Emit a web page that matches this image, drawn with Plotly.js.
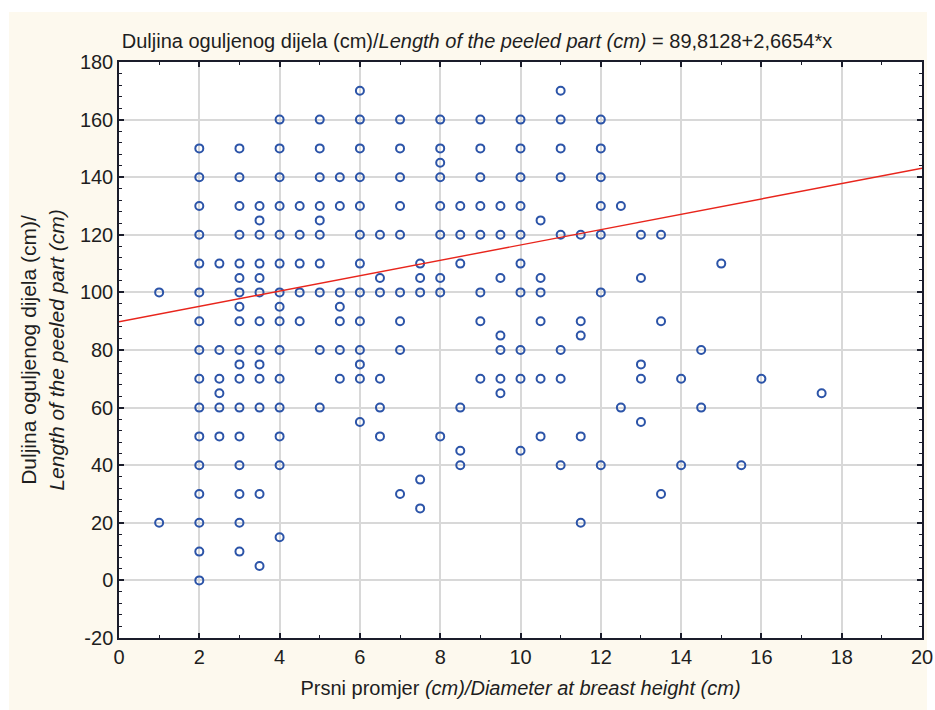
<!DOCTYPE html>
<html>
<head>
<meta charset="utf-8">
<script src="https://cdn.plot.ly/plotly-3.0.1.min.js"></script>
<style>
html,body{margin:0;padding:0;background:#ffffff;}
#panel{position:absolute;left:9px;top:12px;width:918px;height:698px;background:#fdf9ee;}
#chart{position:absolute;left:9px;top:12px;width:926px;height:698px;}
</style>
</head>
<body>
<div id="panel"></div>
<div id="chart"></div>
<script>
// Diameter at breast height (cm) and length of the peeled part (cm), grouped by diameter
const dbhValues = [1, 2, 2.5, 3, 3.5, 4, 4.5, 5, 5.5, 6, 6.5, 7, 7.5, 8, 8.5, 9, 9.5, 10, 10.5, 11, 11.5, 12, 12.5, 13, 13.5, 14, 14.5, 15, 15.5, 16, 17.5];
const peeledLengths = [
  [100, 20],
  [150, 140, 130, 120, 110, 100, 90, 80, 70, 60, 50, 40, 30, 20, 10, 0],
  [110, 80, 70, 65, 60, 50],
  [150, 140, 130, 120, 110, 105, 100, 95, 90, 80, 75, 70, 60, 50, 40, 30, 20, 10],
  [130, 125, 120, 110, 105, 100, 90, 80, 75, 70, 60, 30, 5],
  [160, 150, 140, 130, 120, 110, 100, 95, 90, 80, 70, 60, 50, 40, 15],
  [130, 120, 110, 100, 90],
  [160, 150, 140, 130, 125, 120, 110, 100, 80, 60],
  [140, 130, 100, 95, 90, 80, 70],
  [170, 160, 150, 140, 130, 120, 110, 100, 90, 80, 75, 70, 55],
  [120, 105, 100, 70, 60, 50],
  [160, 150, 140, 130, 120, 100, 90, 80, 30],
  [110, 105, 100, 35, 25],
  [160, 150, 145, 140, 130, 120, 105, 100, 50],
  [130, 120, 110, 60, 45, 40],
  [160, 150, 140, 130, 120, 100, 90, 70],
  [130, 120, 105, 85, 80, 70, 65],
  [160, 150, 140, 130, 120, 110, 100, 80, 70, 45],
  [125, 105, 100, 90, 70, 50],
  [170, 160, 150, 140, 120, 80, 70, 40],
  [120, 90, 85, 50, 20],
  [160, 150, 140, 130, 120, 100, 40],
  [130, 60],
  [120, 105, 75, 70, 55],
  [120, 90, 30],
  [70, 40],
  [80, 60],
  [110],
  [40],
  [70],
  [65]
];
// Regression: y = intercept + slope * x
const intercept = 89.8128;
const slope = 2.6654;
const lineX = [0, 20];

// Tick labels
const xTickVals = [0, 2, 4, 6, 8, 10, 12, 14, 16, 18, 20];
const xTickText = ['0', '2', '4', '6', '8', '10', '12', '14', '16', '18', '20'];
const yTickVals = [-20, 0, 20, 40, 60, 80, 100, 120, 140, 160, 180];
const yTickText = ['-20', '0', '20', '40', '60', '80', '100', '120', '140', '160', '180'];

const xs = [], ys = [];
dbhValues.forEach((d, i) => {
  peeledLengths[i].forEach(v => { xs.push(d); ys.push(v); });
});
const lineY = lineX.map(x => intercept + slope * x);

const fontFam = '"Liberation Sans", Arial, sans-serif';
const txtColor = '#1e1e1e';

const traces = [
  {
    x: xs, y: ys, type: 'scatter', mode: 'markers',
    marker: {symbol: 'circle-open', size: 8, color: '#2c54a8', line: {width: 2, color: '#2c54a8'}},
    hoverinfo: 'x+y', showlegend: false
  },
  {
    x: lineX, y: lineY, type: 'scatter', mode: 'lines',
    line: {color: '#e8251c', width: 1.4},
    showlegend: false, hoverinfo: 'skip'
  }
];

const axisCommon = {
  showline: true, linecolor: '#1a1c2a', linewidth: 1.5, mirror: 'ticks',
  ticks: 'inside', ticklen: 5, tickwidth: 1.5, tickcolor: '#1a1c2a',
  showgrid: true, gridcolor: '#d8d8d8', gridwidth: 1.5,
  zeroline: false, tickmode: 'array',
  tickfont: {family: fontFam, size: 20, color: txtColor}
};

const layout = {
  width: 926, height: 698,
  paper_bgcolor: 'rgba(0,0,0,0)',
  plot_bgcolor: '#ffffff',
  margin: {l: 110, r: 13, t: 50, b: 72},
  font: {family: fontFam, color: txtColor},
  title: {
    text: 'Duljina oguljenog dijela (cm)/<i>Length of the peeled part (cm)</i> = 89,8128+2,6654*x',
    font: {family: fontFam, size: 20, color: txtColor},
    x: (477 - 9) / 926, xref: 'container', xanchor: 'center',
    y: 1 - 29 / 698, yref: 'container', yanchor: 'middle'
  },
  xaxis: Object.assign({}, axisCommon, {
    range: [0, 20], tickvals: xTickVals, ticktext: xTickText,
    minor: {tickmode: 'linear', tick0: 0, dtick: 1, ticks: 'inside', ticklen: 3, tickwidth: 1.2, tickcolor: '#1a1c2a', showgrid: false},
    title: {text: 'Prsni promjer <i>(cm)/Diameter at breast height (cm)</i>', font: {family: fontFam, size: 20, color: txtColor}, standoff: 14}
  }),
  yaxis: Object.assign({}, axisCommon, {
    range: [-20, 180], tickvals: yTickVals, ticktext: yTickText,
    minor: {tickmode: 'linear', tick0: 0, dtick: 4, ticks: 'inside', ticklen: 3, tickwidth: 1.2, tickcolor: '#1a1c2a', showgrid: false},
    title: {text: 'Duljina oguljenog dijela (cm)/<br><i>Length of the peeled part (cm)</i>', font: {family: fontFam, size: 21, color: txtColor}, standoff: 10}
  })
};

Plotly.newPlot('chart', traces, layout, {displayModeBar: false, responsive: false});
</script>
</body>
</html>
